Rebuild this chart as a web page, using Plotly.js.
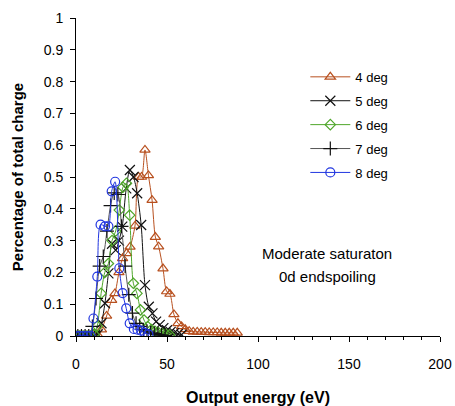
<!DOCTYPE html>
<html><head><meta charset="utf-8">
<script src="https://cdn.plot.ly/plotly-3.0.1.min.js"></script>
<style>html,body{margin:0;padding:0;background:#fff}#chart{width:455px;height:406px}</style>
</head><body><div id="chart"></div>
<script>
// 4 deg
const x4 = [0,2,4,6,8,10,12,14,16.8,19.6,21.4,23.6,25.6,27.8,29.7,32.4,34.4,36,37.9,39.8,41.8,43.6,45.4,47.8,49.8,51.6,53.8,56,58,60,62.2,64.4,66.6,68.8,71,73.2,75.4,77.6,79.8,82,84.2,86.4,88.6];
const y4 = [0,0,0,0,0,0,0.003,0.02,0.063,0.113,0.134,0.2,0.244,0.26,0.28,0.346,0.5,0.5,0.585,0.505,0.427,0.311,0.281,0.212,0.14,0.132,0.068,0.04,0.03,0.021,0.015,0.013,0.013,0.012,0.012,0.011,0.011,0.011,0.01,0.01,0.01,0.01,0.01];
// 5 deg
const x5 = [0,2,4,6,8,10,12,14,15.9,17.8,19.8,21.8,23.6,25.4,27.6,29.6,31.6,33.6,35.8,37.9,40,42,44,46,48,50,52,54,56,58];
const y5 = [0,0,0,0,0,0,0.005,0.04,0.103,0.197,0.29,0.27,0.3,0.344,0.464,0.522,0.5,0.449,0.349,0.16,0.092,0.071,0.045,0.035,0.025,0.018,0.013,0.01,0.006,0.004];
// 6 deg
const x6 = [0,2,4,6,8,10,11.7,13.8,15.8,17.8,19.8,21.8,23.8,25.8,27.7,29.5,31.5,33.5,35.4,37.4,39.4,41.4,43.4,45.4,47.4,49.4,51.4];
const y6 = [0,0,0,0,0,0.005,0.031,0.134,0.2,0.228,0.3,0.33,0.396,0.468,0.48,0.38,0.166,0.134,0.082,0.05,0.03,0.02,0.015,0.01,0.008,0.006,0.004];
// 7 deg
const x7 = [1,3,5,7,9,11,13,15,17,19,21,23,25,27,29,31,33,35,37,39,41,43,45,47,49];
const y7 = [0,0,0,0,0.03,0.118,0.22,0.25,0.33,0.41,0.45,0.445,0.345,0.22,0.13,0.072,0.04,0.03,0.02,0.015,0.01,0.008,0.005,0.003,0.002];
// 8 deg
const x8 = [0,2,4,6,8,9.6,11.7,13.5,15.9,17.8,19.6,21.5,23.8,25.6,27.6,29.5,31.8,33.8,35.8,37.8,39.8];
const y8 = [0,0,0,0,0,0.055,0.187,0.35,0.345,0.345,0.455,0.485,0.213,0.135,0.087,0.04,0.022,0.02,0.017,0.01,0.005];

const seriesNames = ['4 deg','5 deg','6 deg','7 deg','8 deg'];
const xTicks = [0,50,100,150,200];
const yTicks = [0,0.1,0.2,0.3,0.4,0.5,0.6,0.7,0.8,0.9,1];
const yTickText = ['0','0.1','0.2','0.3','0.4','0.5','0.6','0.7','0.8','0.9','1'];
const noteLines = ['Moderate saturaton','0d endspoiling'];

const xs = [x4,x5,x6,x7,x8];
const ys = [y4,y5,y6,y7,y8];
const lineColors = ['#b8501f','#111111','#4ea62a','#555555','#2035e0'];
const markerColors = ['#b8501f','#111111','#4ea62a','#111111','#2035e0'];
const symbols = ['triangle-up-open','x-thin-open','diamond-open','cross-thin-open','circle-open'];
const sizes = [9,10,8,10,9];

const traces = seriesNames.map((n,i)=>({
  type:'scatter', mode:'lines+markers', name:n, legendgroup:'g'+i, x:xs[i], y:ys[i],
  line:{color:lineColors[i], width:1, shape:'spline', smoothing:0.8},
  marker:{symbol:symbols[i], size:sizes[i], color:markerColors[i], line:{color:markerColors[i], width:1.2}}
}));

const layout = {
  width:455, height:406,
  margin:{l:76, r:15, t:18, b:70},
  paper_bgcolor:'#fff', plot_bgcolor:'#fff',
  font:{family:'Liberation Sans, Arial, sans-serif', size:14, color:'#000'},
  showlegend:true,
  legend:{x:0.63, y:0.862, xanchor:'left', yanchor:'top', bgcolor:'rgba(0,0,0,0)', font:{size:13}, tracegroupgap:4, itemwidth:40},
  xaxis:{range:[0,200], tickvals:xTicks, showline:true, linecolor:'#000', linewidth:1,
    ticks:'outside', ticklen:5, tickcolor:'#000', showgrid:false, zeroline:false, ticklabelstandoff:10,
    minor:{dtick:10, ticks:'outside', ticklen:3, tickcolor:'#000'},
    title:{text:'<b>Output energy (eV)</b>', font:{size:16}, standoff:22}},
  yaxis:{range:[0,1], showline:true, linecolor:'#000', linewidth:1,
    ticks:'outside', ticklen:5, tickcolor:'#000', showgrid:false, zeroline:false, ticklabelstandoff:4,
    tickvals:yTicks, ticktext:yTickText,
    title:{text:'<b>Percentage of total charge</b>', font:{size:15}, standoff:16}},
  annotations:[
    {x:138, y:0.261, xref:'x', yref:'y', text:noteLines[0], showarrow:false, font:{size:15}},
    {x:138, y:0.186, xref:'x', yref:'y', text:noteLines[1], showarrow:false, font:{size:15}}
  ]
};
Plotly.newPlot('chart', traces, layout, {staticPlot:true, displayModeBar:false});
</script></body></html>
